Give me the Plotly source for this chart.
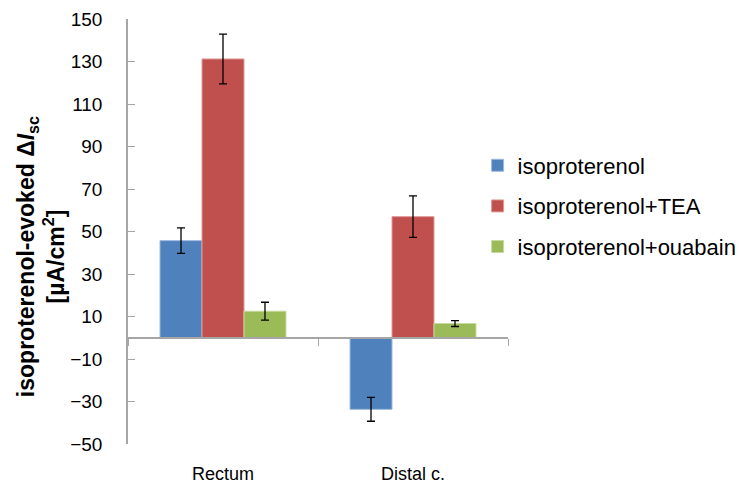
import plotly.graph_objects as go

categories = ["Rectum", "Distal c."]
series_names = ["isoproterenol", "isoproterenol+TEA", "isoproterenol+ouabain"]
iso_vals = [45.7, -33.7]
iso_err = [6.0, 5.6]
tea_vals = [131.2, 57.0]
tea_err = [11.7, 9.8]
oua_vals = [12.5, 6.7]
oua_err = [4.2, 1.4]
y_ticks = [-50, -30, -10, 10, 30, 50, 70, 90, 110, 130, 150]
y_range = [-50, 150]

colors = ["#4F81BD", "#C0504D", "#9BBB59"]
border = ["#9DB9DC", "#E09A98", "#C6DA9E"]
FONT = "Liberation Sans, Arial, sans-serif"

fig = go.Figure()
for i, (name, vals, errs) in enumerate(zip(series_names,
                                          [iso_vals, tea_vals, oua_vals],
                                          [iso_err, tea_err, oua_err])):
    fig.add_trace(go.Bar(
        x=categories, y=vals, name=name, legendgroup=name,
        marker=dict(color=colors[i], line=dict(color=border[i], width=1)),
        error_y=dict(type="data", array=errs, visible=True,
                     color="black", thickness=1.3, width=4),
    ))

n = len(categories)
bounds = [k - 0.5 for k in range(n + 1)]

fig.update_layout(
    width=745, height=483,
    margin=dict(l=128, r=237, t=19, b=39, autoexpand=False),
    paper_bgcolor="white", plot_bgcolor="white",
    barmode="group", bargap=0.337, bargroupgap=0,
    font=dict(family=FONT, color="#000000"),
    showlegend=True,
    legend=dict(x=0.92, y=0.56, xanchor="left", yanchor="middle",
                font=dict(size=22, family=FONT), traceorder="grouped",
                tracegroupgap=9, bgcolor="rgba(0,0,0,0)"),
    xaxis=dict(type="category", showline=False, ticks="", showgrid=False,
               zeroline=False, tickfont=dict(size=18, family=FONT),
               ticklabelstandoff=17, range=[-0.5, n - 0.5], automargin=False),
    xaxis2=dict(overlaying="x", anchor="free",
                position=(0 - y_range[0]) / (y_range[1] - y_range[0]),
                range=[-0.5, n - 0.5], tickvals=bounds, showticklabels=False,
                ticks="outside", ticklen=7, tickcolor="#A6A6A6", tickwidth=1,
                showline=True, linecolor="#A6A6A6", linewidth=1.5,
                showgrid=False, zeroline=False, automargin=False),
    yaxis=dict(range=y_range, tickvals=y_ticks, ticks="inside", ticklen=7,
               tickcolor="#A6A6A6", showline=True, linecolor="#A6A6A6",
               linewidth=1.5, showgrid=False, zeroline=False,
               tickfont=dict(size=19, family=FONT), ticklabelstandoff=20,
               automargin=False),
)
fig.add_trace(go.Scatter(x=[bounds[0], bounds[-1]], y=[None, None], xaxis="x2",
                         showlegend=False, hoverinfo="skip"))

fig.add_annotation(
    text="<b>isoproterenol-evoked Δ<i>I</i><sub>sc</sub></b><br><b>[µA/cm<sup>2</sup>]</b>",
    xref="paper", yref="paper", x=-0.229, y=0.442, xanchor="center", yanchor="middle",
    textangle=-90, showarrow=False, font=dict(size=23, family=FONT, color="black"),
)

fig.write_html("out.html")
